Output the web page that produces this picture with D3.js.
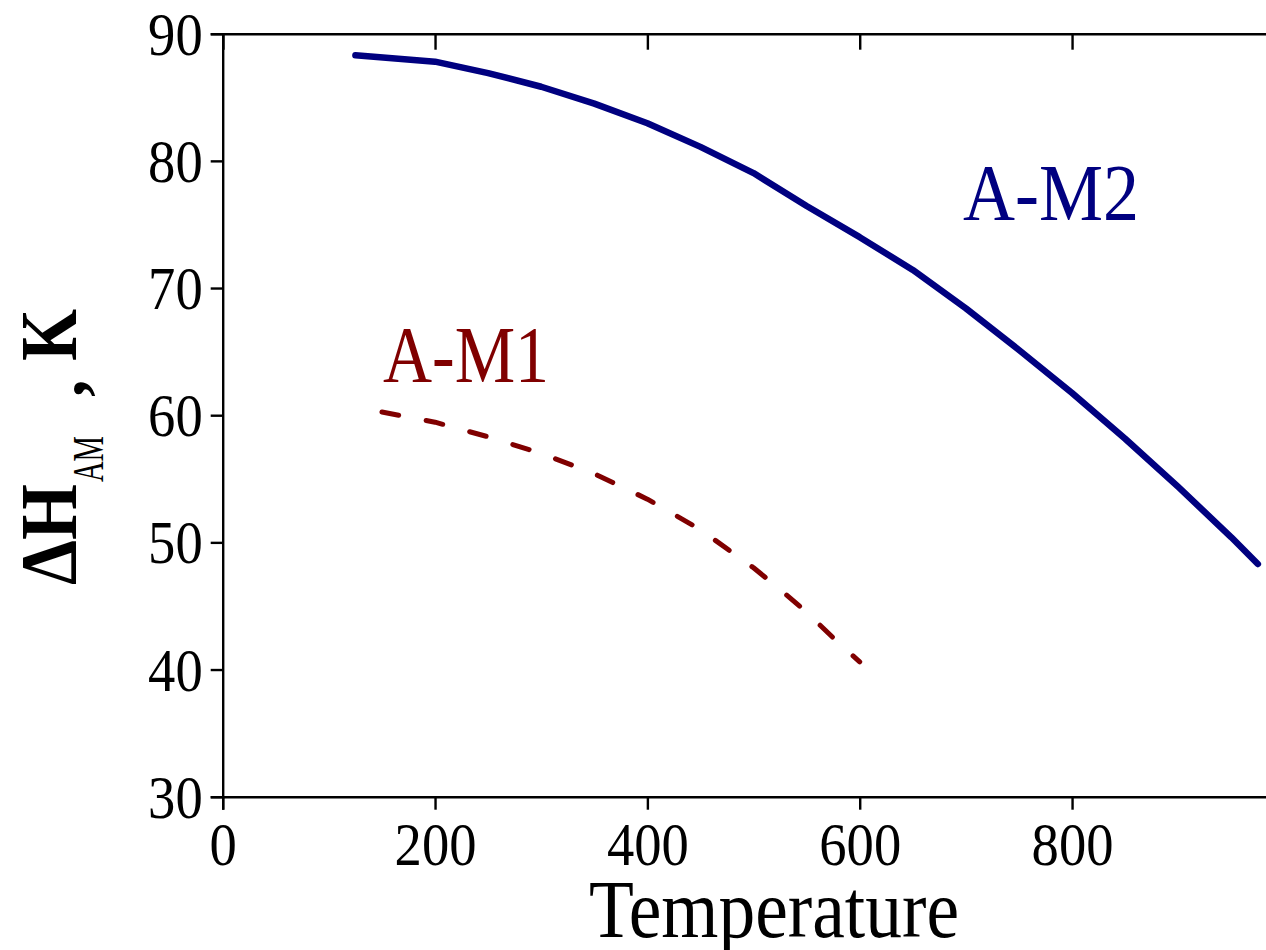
<!DOCTYPE html>
<html>
<head>
<meta charset="utf-8">
<script src="https://cdn.jsdelivr.net/npm/d3@7"></script>
<style>
  html, body { margin: 0; padding: 0; background: #fff; }
  svg { display: block; }
  text { font-family: "Liberation Serif", "Times New Roman", serif; }
</style>
</head>
<body>
<svg id="chart" width="1266" height="950"></svg>
<script>
// Temperature values and ΔH_AM for the two transitions
const tempM2 = [125, 200, 250, 300, 350, 400, 450, 500, 550, 600, 650, 700, 750, 800, 850, 900, 950, 975];
const dhM2   = [88.3, 87.8, 86.9, 85.83, 84.5, 82.96, 81.1, 79.04, 76.45, 74.0, 71.42, 68.4, 65.13, 61.75, 58.15, 54.36, 50.4, 48.3];

const tempM1 = [150, 200, 250, 300, 350, 400, 450, 500, 525, 550, 575, 600];
const dhM1   = [60.25, 59.45, 58.3, 57.0, 55.4, 53.4, 51.0, 48.0, 46.3, 44.5, 42.5, 40.6];

const xTicks = [0, 200, 400, 600, 800];
const yTicks = [30, 40, 50, 60, 70, 80, 90];

const svg = d3.select("#chart");

const x = d3.scaleLinear().domain([0, 1000]).range([222.7, 1284.4]);
const y = d3.scaleLinear().domain([30, 90]).range([796.7, 33.7]);

const axisColor = "#000";
const digitW = 27.3;

// Bottom axis: outward major + minor ticks
const gB = svg.append("g").attr("transform", `translate(0,${y(30)})`);
gB.call(d3.axisBottom(x).tickValues(d3.range(100, 1001, 200)).tickSize(7).tickFormat(""));
gB.call(d3.axisBottom(x).tickValues([...xTicks, 1000]).tickSize(13).tickFormat(d => xTicks.includes(d) ? d3.format("d")(d) : ""));

// Top axis: inward ticks, no labels
const gT = svg.append("g").attr("transform", `translate(0,${y(90)})`);
gT.call(d3.axisBottom(x).tickValues(d3.range(100, 1001, 200)).tickSize(8).tickFormat(""));
gT.call(d3.axisBottom(x).tickValues([...xTicks, 1000]).tickSize(16).tickFormat(""));

// Left axis: outward ticks
const gL = svg.append("g").attr("transform", `translate(${x(0)},0)`);
gL.call(d3.axisLeft(y).tickValues(d3.range(35, 90, 10)).tickSize(6).tickFormat(""));
gL.call(d3.axisLeft(y).tickValues(yTicks).tickSize(12).tickPadding(8).tickFormat(d3.format("d")));

svg.selectAll(".domain").attr("stroke", axisColor).attr("stroke-width", 2.4);
svg.selectAll(".tick line").attr("stroke", axisColor).attr("stroke-width", 2.4);
svg.selectAll(".tick text")
  .attr("fill", "#000")
  .style("font-family", "'Liberation Serif', serif")
  .style("font-size", "62px")
  .each(function () {
    const t = d3.select(this);
    const s = t.text();
    if (s) t.attr("textLength", s.length * digitW).attr("lengthAdjust", "spacingAndGlyphs");
  });
gB.selectAll(".tick text").attr("y", 865 - y(30)).attr("dy", 0);
gL.selectAll(".tick text").attr("dy", "0.33em");

// Curves
const line = d3.line().x(d => x(d[0])).y(d => y(d[1])).curve(d3.curveLinear);

svg.append("path")
  .datum(tempM2.map((t, i) => [t, dhM2[i]]))
  .attr("d", line)
  .attr("fill", "none")
  .attr("stroke", "#000080")
  .attr("stroke-width", 6.5)
  .attr("stroke-linecap", "round")
  .attr("stroke-linejoin", "round");

svg.append("path")
  .datum(tempM1.map((t, i) => [t, dhM1[i]]))
  .attr("d", line)
  .attr("fill", "none")
  .attr("stroke", "#800000")
  .attr("stroke-width", 5)
  .attr("stroke-linecap", "round")
  .attr("stroke-linejoin", "round")
  .attr("stroke-dasharray", "17 28");

// Curve labels
svg.append("text")
  .attr("x", 963).attr("y", 220)
  .attr("fill", "#000080")
  .style("font-size", "81px")
  .attr("textLength", 176).attr("lengthAdjust", "spacingAndGlyphs")
  .text("A-M2");

svg.append("text")
  .attr("x", 383).attr("y", 382)
  .attr("fill", "#800000")
  .style("font-size", "81px")
  .attr("textLength", 166).attr("lengthAdjust", "spacingAndGlyphs")
  .text("A-M1");

// X axis title
svg.append("text")
  .attr("x", 589).attr("y", 937)
  .attr("fill", "#000")
  .style("font-size", "83px")
  .attr("textLength", 370).attr("lengthAdjust", "spacingAndGlyphs")
  .text("Temperature");

// Y axis title: ΔH with subscript AM, rotated
const yt = svg.append("g").attr("transform", "translate(76,585) rotate(-90)");
yt.append("text")
  .attr("x", 0).attr("y", 0)
  .attr("fill", "#000")
  .style("font-size", "80px").style("font-weight", "bold")
  .attr("textLength", 101).attr("lengthAdjust", "spacingAndGlyphs")
  .text("ΔH");
yt.append("text")
  .attr("x", 103).attr("y", 27)
  .attr("fill", "#000")
  .style("font-size", "45px")
  .attr("textLength", 46).attr("lengthAdjust", "spacingAndGlyphs")
  .text("AM");
yt.append("text")
  .attr("x", 188).attr("y", 8)
  .attr("fill", "#000")
  .style("font-size", "70px").style("font-weight", "bold")
  .text(",");
yt.append("text")
  .attr("x", 224).attr("y", 0)
  .attr("fill", "#000")
  .style("font-size", "80px").style("font-weight", "bold")
  .attr("textLength", 52).attr("lengthAdjust", "spacingAndGlyphs")
  .text("K");
</script>
</body>
</html>
